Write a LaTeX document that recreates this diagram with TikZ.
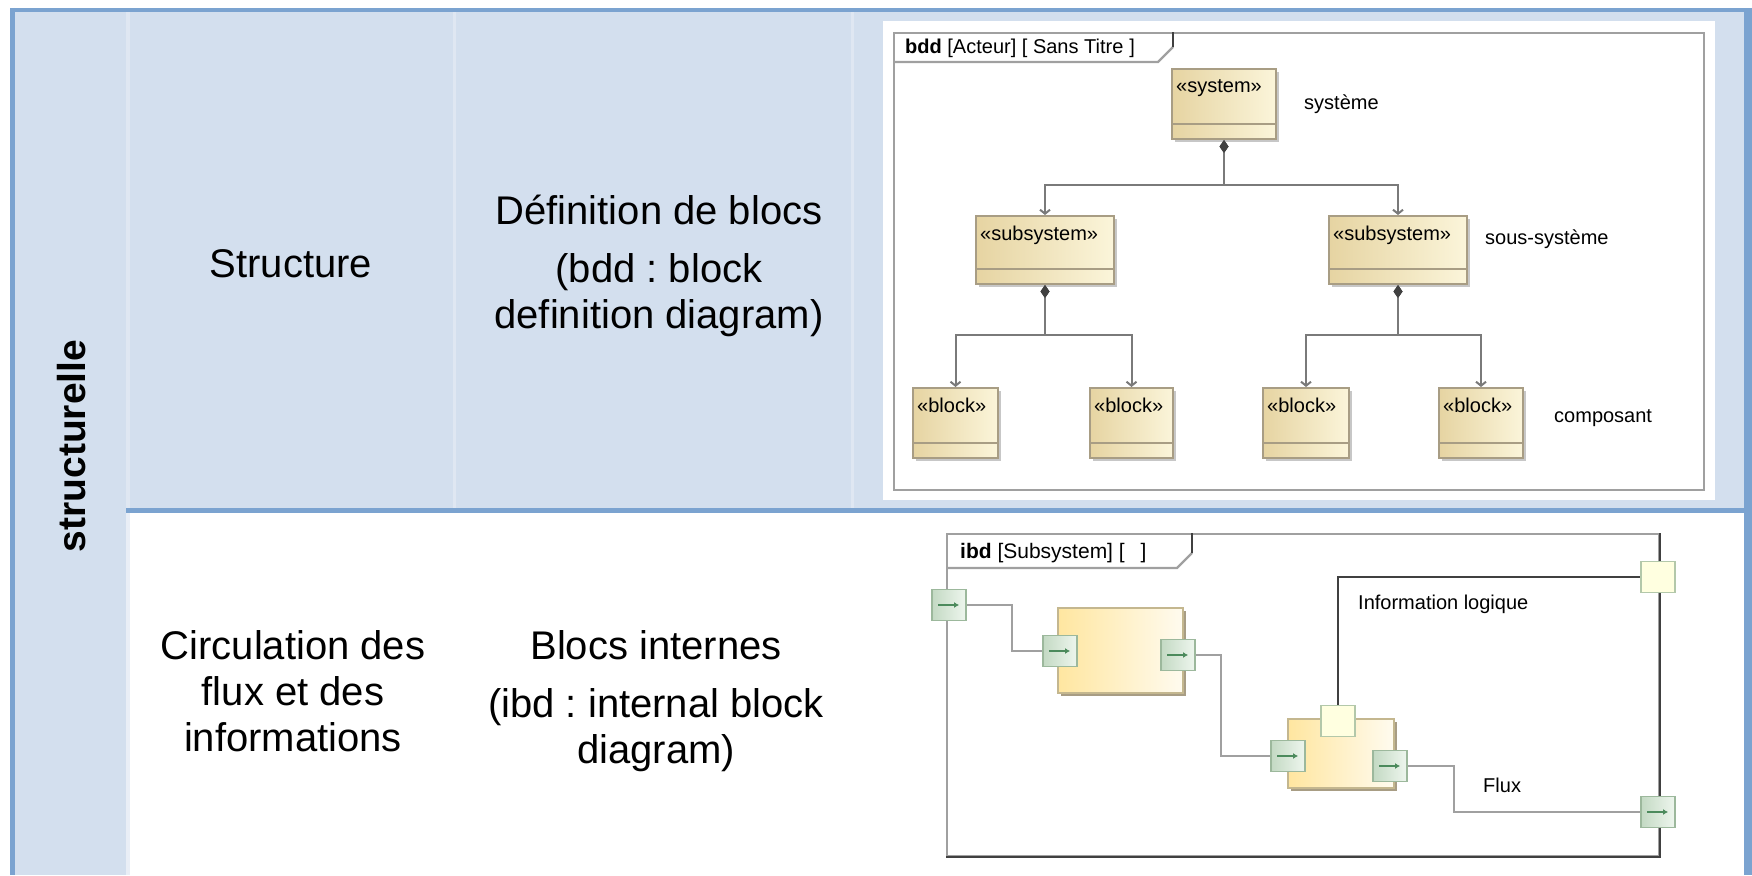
\documentclass[tikz,border=0pt]{standalone}
\usepackage{fontspec}
\setmainfont{Liberation Sans}
\usetikzlibrary{arrows.meta, positioning, shadows}

\definecolor{cellblue}{HTML}{D3DFEE}
\definecolor{ruleblue}{HTML}{7BA3D0}
\definecolor{sepblue}{HTML}{DFE7F2}
\definecolor{framegray}{HTML}{A0A0A0}
\definecolor{framedark}{HTML}{404040}
\definecolor{compgray}{HTML}{7A7A7A}
\definecolor{blocktan}{HTML}{E6D4A2}
\definecolor{blockcream}{HTML}{FBF5DA}
\definecolor{blockedge}{HTML}{A89D84}
\definecolor{partyellow}{HTML}{FFE6A0}
\definecolor{partcream}{HTML}{FFFBEF}
\definecolor{partedge}{HTML}{C4B78F}
\definecolor{portgreen}{HTML}{C3D9C3}
\definecolor{portlight}{HTML}{EEF6EE}
\definecolor{portedge}{HTML}{9CB89C}
\definecolor{portarrow}{HTML}{4C8A5C}
\definecolor{portyellow}{HTML}{FFFFE0}
\definecolor{portyedge}{HTML}{B3C8AA}

\begin{document}
\begin{tikzpicture}[x=1pt, y=-1pt,
    every node/.style={font=\fontsize{20}{24}\selectfont, inner sep=0pt},
    celltext/.style={font=\frenchspacing\fontsize{40}{46}\selectfont, align=center},
    block/.style={draw=blockedge, line width=2pt, left color=blocktan, right color=blockcream, anchor=north west,
        drop shadow={shadow xshift=3pt, shadow yshift=-3pt, fill=black!22, opacity=1},
        path picture={\draw[blockedge, line width=2.5pt] ([yshift=15pt]path picture bounding box.south west) -- ([yshift=15pt]path picture bounding box.south east);}},
    stereo/.style={label={[anchor=north west, xshift=5pt, yshift=-11pt]north west:#1}},
    part/.style={draw=partedge, line width=2pt, left color=partyellow, right color=partcream, anchor=north west,
        drop shadow={shadow xshift=3pt, shadow yshift=-3pt, fill=blockedge, opacity=1}},
    fport/.style={draw=portedge, line width=1.5pt, left color=portgreen, right color=portlight, minimum width=34pt, minimum height=31pt,
        path picture={\draw[portarrow, line width=1.5pt, -{Latex[length=5pt, width=6pt]}] ([xshift=6pt]path picture bounding box.west) -- ([xshift=-7pt]path picture bounding box.east);}},
    pport/.style={draw=portyedge, line width=1.5pt, fill=portyellow, minimum width=34pt, minimum height=31pt},
    frame/.style={draw=framegray, line width=2.2pt, anchor=north west},
    comp/.style={draw=compgray, line width=2pt, {Diamond[length=13pt, width=9pt, color=framedark]}-{Straight Barb[length=4pt, width=10pt]}},
    flow/.style={draw=framegray, line width=2pt},
    flowdark/.style={draw=framedark, line width=2pt}]

    \useasboundingbox (0,0) rectangle (1752,875);

    \fill[cellblue] (12,10) rectangle (1748,511);
    \fill[cellblue] (12,511) rectangle (126,875);
    \fill[white] (883,21) rectangle (1715,500);
    \draw[sepblue, line width=4pt] (128,12) -- (128,509);
    \draw[sepblue!70!white, line width=4pt] (128,513) -- (128,875);
    \draw[sepblue, line width=3pt] (454.5,12) -- (454.5,509);
    \draw[sepblue, line width=3pt] (852,12) -- (852,509);
    \draw[ruleblue, line width=4pt] (10,10) -- (1752,10);
    \draw[ruleblue, line width=5pt] (126,510.5) -- (1748,510.5);
    \draw[ruleblue, line width=4.5pt] (12.5,8) -- (12.5,875);
    \draw[ruleblue, line width=8pt] (1748,8) -- (1748,875);

    \node[rotate=90, font=\bfseries\fontsize{39}{46}\selectfont] (colname) at (72,446) {structurelle};
    \node[celltext] (rowstruct) at (291,264) {Structure};
    \node[celltext] (bddname) at (659,266) {Définition de blocs\\[12pt](bdd : block\\definition diagram)};
    \node[celltext] (rowflux) at (293,691) {Circulation des\\flux et des\\informations};
    \node[celltext] (ibdname) at (656,701) {Blocs internes\\[12pt](ibd : internal block\\diagram)};

    \node[frame, minimum width=810pt, minimum height=457pt] (bddframe) at (893,32) {};
    \draw[framegray, line width=2.2pt] ([yshift=-30pt]bddframe.north west) -- ++(265,0) -- ++(15,-15);
    \draw[framedark, line width=2.2pt] (1173,47) -- (1173,32);
    \node[anchor=west] (bddtitle) at (905,48) {\textbf{bdd} [Acteur] [ Sans Titre\hspace{6pt}]};

    \node[block, stereo=«system», minimum width=104pt, minimum height=70pt] (sys) at (1171,68) {};
    \node[block, stereo=«subsystem», minimum width=138pt, minimum height=68pt] (subL) at (975,215) {};
    \node[block, stereo=«subsystem», minimum width=138pt, minimum height=68pt] (subR) at (1328,215) {};
    \node[block, stereo=«block», minimum width=85pt, minimum height=70pt] (blkA) at (912,387) {};
    \node[block, stereo=«block», minimum width=83pt, minimum height=70pt] (blkB) at (1089,387) {};
    \node[block, stereo=«block», minimum width=86pt, minimum height=70pt] (blkC) at (1262,387) {};
    \node[block, stereo=«block», minimum width=84pt, minimum height=70pt] (blkD) at (1438,387) {};
    \node[right=27pt of sys] (syslabel) {système};
    \node[right=17pt of subR, yshift=11pt] (sublabel) {sous-système};
    \node[right=30pt of blkD, yshift=5pt] (blklabel) {composant};

    \draw[comp] (sys.south) -- ++(0,45) -| (subL.north);
    \draw[comp] (sys.south) -- ++(0,45) -| (subR.north);
    \draw[comp] (subL.south) -- ++(0,50) -| (blkA.north);
    \draw[comp] (subL.south) -- ++(0,50) -| (blkB.north);
    \draw[comp] (subR.south) -- ++(0,50) -| (blkC.north);
    \draw[comp] (subR.south) -- ++(0,50) -| (blkD.north);

    \node[frame, minimum width=712pt, minimum height=322pt] (ibdframe) at (946,533) {};
    \draw[framedark, line width=2.2pt] (ibdframe.south west) -- (ibdframe.south east) -- (ibdframe.north east);
    \draw[framegray, line width=2.2pt] ([yshift=-35pt]ibdframe.north west) -- ++(231,0) -- ++(15,-15);
    \draw[framedark, line width=2.2pt] (1192,553) -- (1192,533);
    \node[anchor=west, font=\fontsize{21}{24}\selectfont] (ibdtitle) at (960,553) {\textbf{ibd} [Subsystem] [\hspace{16pt}]};

    \node[part, minimum width=125pt, minimum height=85pt] (partA) at (1057,607) {};
    \node[part, minimum width=106pt, minimum height=69pt] (partB) at (1287,718) {};

    \node[fport] (inport) at (949,605) {};
    \node[fport] (partAin) at (1060,651) {};
    \node[fport] (partAout) at (1178,655) {};
    \node[fport] (partBin) at (1288,756) {};
    \node[pport] (partBtop) at (1338,721) {};
    \node[fport] (partBout) at (1390,766) {};
    \node[pport] (infoport) at (1658,577) {};
    \node[fport] (fluxport) at (1658,812) {};

    \draw[flow] (inport.east) -- ++(45,0) |- (partAin.west);
    \draw[flow] (partAout.east) -- ++(25,0) |- (partBin.west);
    \draw[flowdark] (partBtop.north) |- (infoport.west);
    \draw[flow] (partBout.east) -- ++(46,0) |- (fluxport.west);

    \node[anchor=west] (infolabel) at (1358,604) {Information logique};
    \node[anchor=west] (fluxlabel) at (1483,785) {Flux};
\end{tikzpicture}
\end{document}
